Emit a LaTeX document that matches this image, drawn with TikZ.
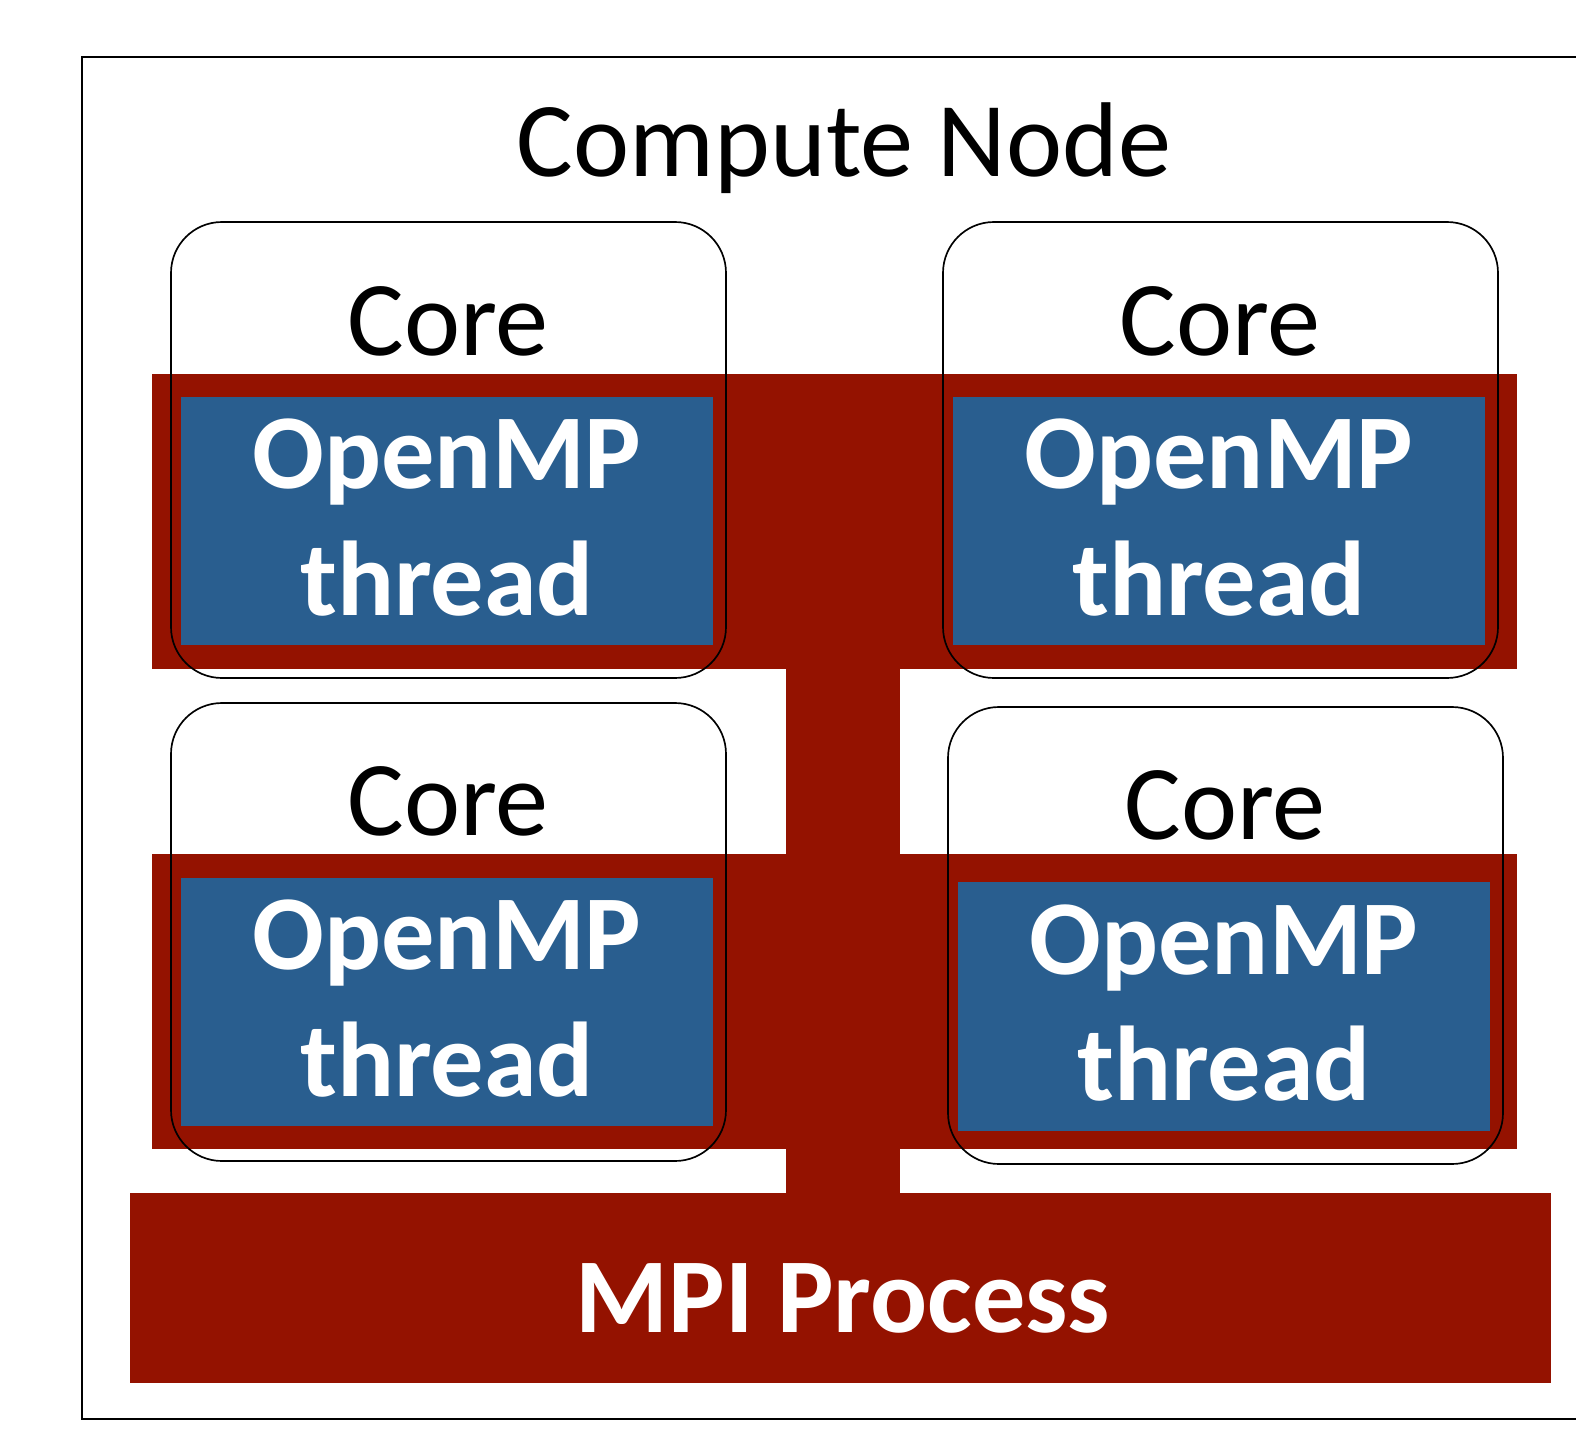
\documentclass[tikz,border=0pt]{standalone}
\usepackage{fontspec}
\setmainfont{Carlito}
\usetikzlibrary{positioning, fit}
\definecolor{mpiRed}{RGB}{148,18,0}
\definecolor{ompBlue}{RGB}{41,94,143}

\begin{document}
\begin{tikzpicture}[
    x=0.02cm, y=-0.02cm,
    bigtxt/.style={font=\fontsize{60.5}{72}\selectfont, inner sep=0pt},
    corebox/.style={draw=black, line width=0.95pt, rounded corners=29pt,
                    inner sep=0pt},
    thrbox/.style={fill=ompBlue, inner sep=0pt},
    thrtxt/.style={bigtxt, text=white, align=center,
                   font=\fontsize{60.5}{72}\selectfont\bfseries},
    redband/.style={fill=mpiRed}
]
\useasboundingbox (0,0) rectangle (1576,1430);

% compute node frame
\draw[line width=1pt] (1620,57) -- (82,57) -- (82,1419) -- (1620,1419);
\node[bigtxt, anchor=base] (title) at (844,176) {Compute Node};

% MPI process (red)
\fill[redband] (152,374) rectangle (1517,669);
\fill[redband] (152,854) rectangle (1517,1149);
\fill[redband] (786,669) rectangle (900,1193);
\node[redband, inner sep=0pt, fit={(130,1193) (1551,1383)}] (mpi) {};
\node[thrtxt, anchor=base] (mpitxt) at (843,1332) {MPI Process};

% OpenMP threads
\node[thrbox, fit={(181,397) (713,645)}] (thr1) {};
\node[thrbox, fit={(953,397) (1485,645)}] (thr2) {};
\node[thrbox, fit={(181,878) (713,1126)}] (thr3) {};
\node[thrbox, fit={(958,882) (1490,1131)}] (thr4) {};
\foreach \t in {1,...,4}
  \node[thrtxt, yshift=2pt] (thr\t txt) at (thr\t.center) {OpenMP\\thread};

% cores
\node[corebox, fit={(171,222) (726,678)}] (core1) {};
\node[corebox, fit={(943,222) (1498,678)}] (core2) {};
\node[corebox, fit={(171,703) (726,1161)}] (core3) {};
\node[corebox, fit={(948,707) (1503,1164)}] (core4) {};
\node[bigtxt, anchor=base] (core1txt) at (448,355) {Core};
\node[bigtxt, anchor=base] (core2txt) at (1220,355) {Core};
\node[bigtxt, anchor=base] (core3txt) at (448,835) {Core};
\node[bigtxt, anchor=base] (core4txt) at (1225,839) {Core};
\end{tikzpicture}
\end{document}
